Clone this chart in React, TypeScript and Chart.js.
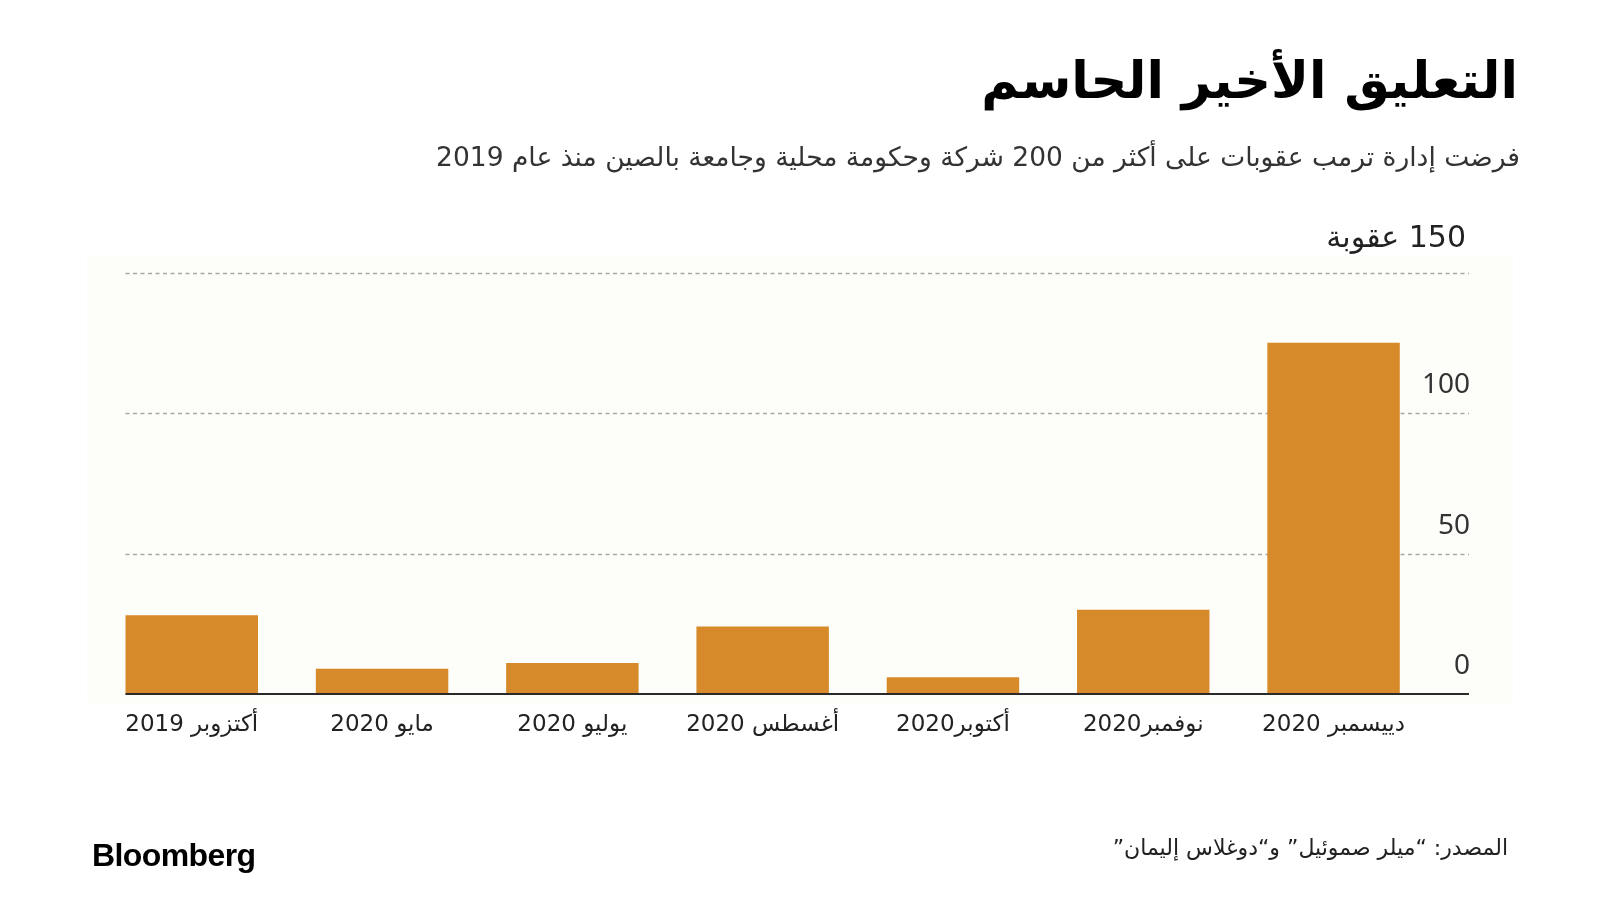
import React, { useEffect, useRef } from "react";
import { Chart, registerables } from "chart.js";

Chart.register(...registerables);

const categories = [
  "أكتزوبر 2019",
  "مايو 2020",
  "يوليو 2020",
  "أغسطس 2020",
  "أكتوبر2020",
  "نوفمبر2020",
  "دييسمبر 2020",
];
const sanctions = [28, 9, 11, 24, 6, 30, 125];
const yTicks = [0, 50, 100, 150];
const yUnitLabel = "150 عقوبة";

const title = "التعليق الأخير الحاسم";
const subtitle = "فرضت إدارة ترمب عقوبات على أكثر من 200 شركة وحكومة محلية وجامعة بالصين منذ عام 2019";
const source = "المصدر: “ميلر صموئيل” و“دوغلاس إليمان”";

const AR_FONT = '"DejaVu Sans", sans-serif';
const BAR_COLOR = "#D68A29";

const decorPlugin = {
  id: "decor",
  beforeDatasetsDraw(chart: any) {
    const ctx = chart.ctx;
    const y = chart.scales.y;
    const x = chart.scales.x;
    const gridLeft = 125.5;
    const gridRight = 1469;
    ctx.save();
    // faint panel
    ctx.fillStyle = "#FDFDF9";
    ctx.fillRect(87, 255, 1426, 448);
    // dashed gridlines
    ctx.strokeStyle = "#A8A8A8";
    ctx.lineWidth = 1.5;
    ctx.setLineDash([4, 3.5]);
    yTicks.forEach((v) => {
      if (v === 0) return;
      const py = Math.round(y.getPixelForValue(v)) + 0.5;
      ctx.beginPath();
      ctx.moveTo(gridLeft, py);
      ctx.lineTo(gridRight, py);
      ctx.stroke();
    });
    ctx.setLineDash([]);
    // y labels
    ctx.fillStyle = "#333";
    ctx.textAlign = "right";
    ctx.textBaseline = "alphabetic";
    ctx.font = '28px "Noto Sans", sans-serif';
    yTicks.forEach((v) => {
      if (v === 150) return;
      const py = y.getPixelForValue(v);
      ctx.fillText(String(v), 1470, py - 20);
    });
    ctx.direction = "rtl";
    ctx.font = "30px " + AR_FONT;
    ctx.fillStyle = "#222";
    ctx.fillText(yUnitLabel, 1466, y.getPixelForValue(150) - 26);
    // x labels
    ctx.font = "23px " + AR_FONT;
    ctx.textAlign = "center";
    categories.forEach((c, i) => {
      ctx.fillText(c, x.getPixelForValue(i), 731);
    });
    ctx.restore();
  },
  afterDatasetsDraw(chart: any) {
    const ctx = chart.ctx;
    const y = chart.scales.y;
    const py = y.getPixelForValue(0);
    ctx.save();
    ctx.strokeStyle = "#2a2a2a";
    ctx.lineWidth = 2;
    ctx.beginPath();
    ctx.moveTo(125.5, py);
    ctx.lineTo(1469, py);
    ctx.stroke();
    ctx.restore();
  },
};

function BarChart() {
  const ref = useRef<HTMLCanvasElement | null>(null);
  useEffect(() => {
    if (!ref.current) return;
    const chart = new Chart(ref.current, {
      type: "bar",
      data: {
        labels: categories,
        datasets: [
          {
            data: sanctions,
            backgroundColor: BAR_COLOR,
            borderWidth: 0,
            barPercentage: 0.696,
            categoryPercentage: 1,
          },
        ],
      },
      options: {
        animation: false,
        responsive: false,
        maintainAspectRatio: false,
        events: [],
        layout: { padding: { left: 96.6, right: 171.3, top: 272.5, bottom: 206 } },
        plugins: { legend: { display: false }, tooltip: { enabled: false } },
        scales: {
          x: { display: false, offset: true },
          y: { display: false, min: 0, max: 150, ticks: { stepSize: 50 } },
        },
      },
      plugins: [decorPlugin],
    });
    return () => chart.destroy();
  }, []);
  return (
    <canvas
      ref={ref}
      width={1600}
      height={900}
      style={{ position: "absolute", left: 0, top: 0, width: 1600, height: 900 }}
    />
  );
}

export default function App() {
  return (
    <div
      style={{
        position: "absolute",
        left: 0,
        top: 0,
        width: 1600,
        height: 900,
        background: "#fff",
        overflow: "hidden",
      }}
    >
      <BarChart />
      <div
        dir="rtl"
        style={{
          position: "absolute",
          right: 82,
          top: 55,
          fontFamily: AR_FONT,
          fontWeight: 700,
          fontSize: 51,
          lineHeight: "51px",
          color: "#000",
          whiteSpace: "nowrap",
        }}
      >
        {title}
      </div>
      <div
        dir="rtl"
        style={{
          position: "absolute",
          right: 80,
          top: 143,
          fontFamily: AR_FONT,
          fontSize: 26.5,
          lineHeight: "27px",
          color: "#333",
          whiteSpace: "nowrap",
        }}
      >
        {subtitle}
      </div>
      <div
        dir="rtl"
        style={{
          position: "absolute",
          right: 92,
          top: 837,
          fontFamily: AR_FONT,
          fontSize: 22,
          lineHeight: "22px",
          color: "#222",
          whiteSpace: "nowrap",
        }}
      >
        {source}
      </div>
      <div
        style={{
          position: "absolute",
          left: 92,
          top: 839,
          fontFamily: '"Liberation Sans", Arial, sans-serif',
          fontWeight: 700,
          fontSize: 32,
          lineHeight: "32px",
          letterSpacing: "-0.6px",
          color: "#000",
          whiteSpace: "nowrap",
        }}
      >
        Bloomberg
      </div>
    </div>
  );
}
